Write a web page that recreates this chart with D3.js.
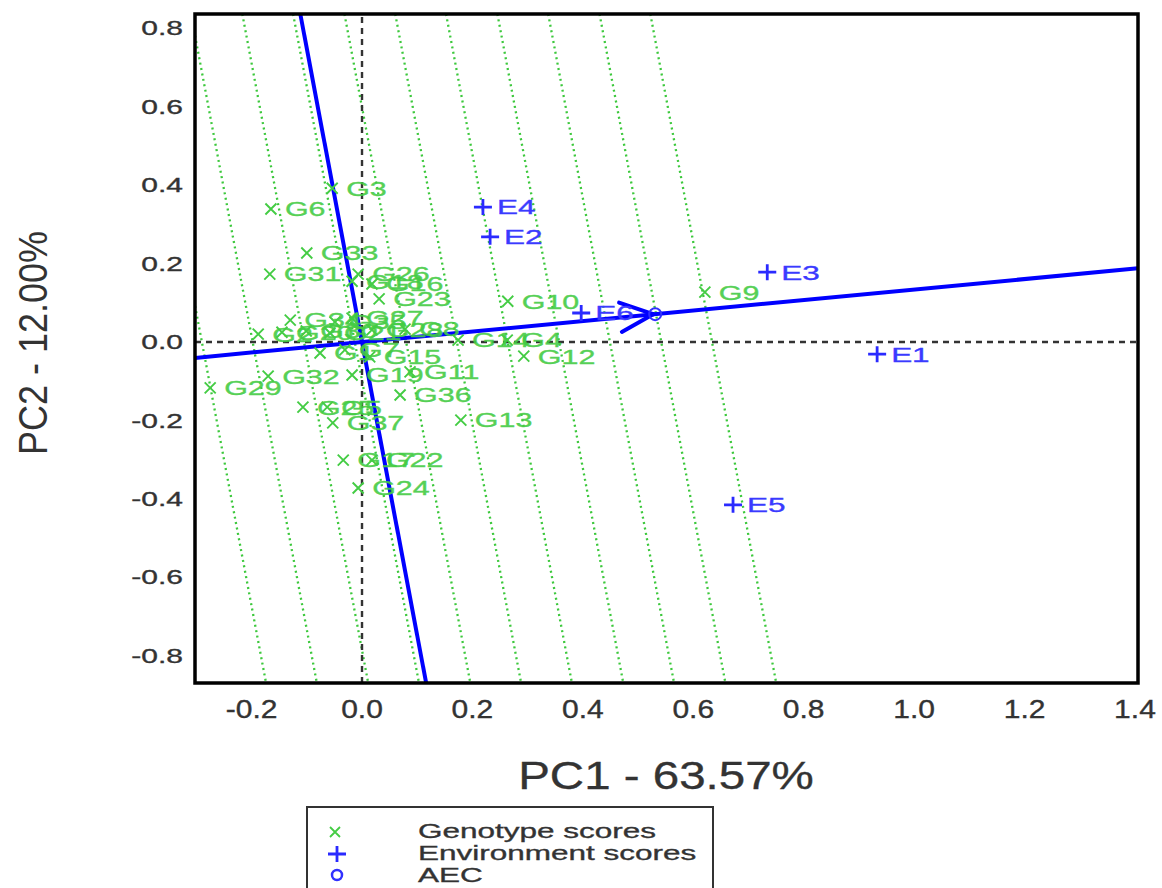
<!DOCTYPE html>
<html>
<head>
<meta charset="utf-8">
<script src="https://cdn.jsdelivr.net/npm/d3@7"></script>
<style>
  body { margin: 0; background: #fff; }
  svg { display: block; font-family: "Liberation Sans", Arial, sans-serif; }
</style>
</head>
<body>
<svg id="chart" width="1162" height="888"></svg>
<script>
// genotype scores (PC1, PC2)
var genoNames = ["G1","G2","G3","G4","G5","G6","G7","G8","G9","G10","G11","G12","G13","G14","G15","G16","G17","G18","G19","G20","G21","G22","G23","G24","G25","G26","G27","G28","G29","G30","G31","G32","G33","G34","G35","G36","G37"];
var genoPC1 = [-0.076,-0.188,-0.054,0.263,-0.063,-0.165,-0.031,0.078,0.621,0.264,0.087,0.293,0.179,0.174,0.014,0.018,-0.034,-0.018,-0.018,-0.145,-0.058,0.018,0.031,-0.007,-0.107,-0.007,-0.018,0.018,-0.275,-0.101,-0.167,-0.170,-0.100,-0.130,-0.049,0.069,-0.053];
var genoPC2 = [-0.028,0.020,0.392,0.005,-0.166,0.339,-0.020,0.033,0.127,0.104,-0.076,-0.036,-0.199,0.005,-0.038,0.148,-0.301,0.155,-0.084,0.025,0.023,-0.301,0.110,-0.372,-0.166,0.173,0.061,0.031,-0.117,0.028,0.173,-0.087,0.227,0.056,0.051,-0.135,-0.206];

// environment scores
var envNames = ["E1","E2","E3","E4","E5","E6"];
var envPC1 = [0.933,0.232,0.734,0.219,0.672,0.397];
var envPC2 = [-0.031,0.268,0.178,0.344,-0.415,0.074];

// average environment coordinate
var aec = [0.531, 0.071];

// offsets of the dotted lines perpendicular to the AEC axis (value at PC2 = 0)
var rankLines = [-0.290,-0.198,-0.105,-0.013,0.080,0.172,0.264,0.357,0.449,0.542,0.634];

var xTicks = [-0.2,0.0,0.2,0.4,0.6,0.8,1.0,1.2,1.4];
var yTicks = [-0.8,-0.6,-0.4,-0.2,0.0,0.2,0.4,0.6,0.8];

var plot = {left: 195, right: 1138, top: 14, bottom: 683};

var svg = d3.select("#chart");

var x = d3.scaleLinear()
    .domain([-0.3025, 1.4055])
    .range([plot.left, plot.right]);

var y = d3.scaleLinear()
    .domain([-0.869, 0.836])
    .range([plot.bottom, plot.top]);

function label(g, px, py, txt, size, sx, color, anchor) {
  return g.append("text")
      .attr("transform", "translate(" + px + "," + py + ") scale(" + sx + ",1)")
      .attr("dy", "0.35em")
      .attr("text-anchor", anchor || "start")
      .style("font-size", size + "px")
      .style("fill", color)
      .style("stroke", color)
      .style("stroke-width", 0.35)
      .text(txt);
}

svg.append("clipPath").attr("id", "clip")
  .append("rect")
    .attr("x", plot.left).attr("y", plot.top)
    .attr("width", plot.right - plot.left)
    .attr("height", plot.bottom - plot.top);

var inner = svg.append("g").attr("clip-path", "url(#clip)");

var x0 = x.domain()[0], x1 = x.domain()[1];
var y0 = y.domain()[0], y1 = y.domain()[1];
var slope = aec[1] / aec[0];

// green dotted lines: PC1 + slope*PC2 = c
inner.selectAll(".rank")
    .data(rankLines)
    .enter()
    .append("line")
      .attr("class", "rank")
      .attr("x1", function(c) { return x(c - slope * y1); })
      .attr("y1", y(y1))
      .attr("x2", function(c) { return x(c - slope * y0); })
      .attr("y2", y(y0))
      .style("stroke", "#3cc83c")
      .style("stroke-width", 2.3)
      .style("stroke-dasharray", "2,3.5");

// dashed zero lines
inner.append("line")
    .attr("x1", x(x0)).attr("x2", x(x1))
    .attr("y1", y(0)).attr("y2", y(0))
    .style("stroke", "#333").style("stroke-width", 2.4)
    .style("stroke-dasharray", "6,5");
inner.append("line")
    .attr("x1", x(0)).attr("x2", x(0))
    .attr("y1", y(y0)).attr("y2", y(y1))
    .style("stroke", "#333").style("stroke-width", 2.4)
    .style("stroke-dasharray", "6,5");

// AEC abscissa and ordinate
inner.append("line")
    .attr("x1", x(x0)).attr("y1", y(x0 * slope))
    .attr("x2", x(x1)).attr("y2", y(x1 * slope))
    .style("stroke", "#0000ff").style("stroke-width", 4);
inner.append("line")
    .attr("x1", x(-slope * y1)).attr("y1", y(y1))
    .attr("x2", x(-slope * y0)).attr("y2", y(y0))
    .style("stroke", "#0000ff").style("stroke-width", 4);

// arrow head at AEC
var tipX = x(aec[0]), tipY = y(aec[1]);
var ang = Math.atan2(y(aec[1]) - y(0), x(aec[0]) - x(0));
[-0.42, 0.42].forEach(function(a) {
  inner.append("line")
      .attr("x1", tipX - 2).attr("y1", tipY)
      .attr("x2", tipX - 2 - 36 * Math.cos(ang + a))
      .attr("y2", tipY - 36 * Math.sin(ang + a))
      .style("stroke", "#0000ff").style("stroke-width", 4)
      .style("stroke-linecap", "round");
});
inner.append("circle")
    .attr("cx", tipX).attr("cy", tipY).attr("r", 6)
    .style("fill", "none").style("stroke", "#3030ff").style("stroke-width", 2);

// genotypes
var genos = genoNames.map(function(n, i) { return {name: n, pc1: genoPC1[i], pc2: genoPC2[i]}; });
var gg = inner.append("g");
genos.forEach(function(d) {
  var px = x(d.pc1), py = y(d.pc2);
  gg.append("path")
      .attr("d", "M" + (px - 5.5) + "," + (py - 5.5) + "L" + (px + 5.5) + "," + (py + 5.5) +
                 "M" + (px - 5.5) + "," + (py + 5.5) + "L" + (px + 5.5) + "," + (py - 5.5))
      .style("stroke", "#44cc44").style("stroke-width", 1.9);
  label(gg, px + 14, py, d.name, 21, 1.45, "#44cc44").style("opacity", 0.9);
});

// environments
var envs = envNames.map(function(n, i) { return {name: n, pc1: envPC1[i], pc2: envPC2[i]}; });
var eg = inner.append("g");
envs.forEach(function(d) {
  var px = x(d.pc1), py = y(d.pc2);
  eg.append("path")
      .attr("d", "M" + (px - 9) + "," + py + "L" + (px + 9) + "," + py +
                 "M" + px + "," + (py - 8) + "L" + px + "," + (py + 8))
      .style("stroke", "#2a2aff").style("stroke-width", 2.8);
  label(eg, px + 14, py, d.name, 21, 1.5, "#3a3aff");
});

// frame
svg.append("rect")
    .attr("x", plot.left).attr("y", plot.top)
    .attr("width", plot.right - plot.left)
    .attr("height", plot.bottom - plot.top)
    .style("fill", "none").style("stroke", "#000").style("stroke-width", 3.5);

// tick labels
yTicks.forEach(function(t) {
  label(svg, 183, y(t), d3.format(".1f")(t).replace("\u2212", "-"), 20, 1.5, "#333", "end");
});
xTicks.forEach(function(t) {
  label(svg, x(t), 709, d3.format(".1f")(t).replace("\u2212", "-"), 25, 1.2, "#333", "middle");
});

// axis titles
label(svg, 666, 776, "PC1 - 63.57%", 38, 1.25, "#333", "middle");
svg.append("text")
    .attr("transform", "translate(33,343) rotate(-90) scale(0.9,1)")
    .attr("dy", "0.35em")
    .attr("text-anchor", "middle")
    .style("font-size", "40px")
    .style("fill", "#333")
    .text("PC2 - 12.00%");

// legend
var lg = svg.append("g");
lg.append("rect")
    .attr("x", 307).attr("y", 807)
    .attr("width", 406).attr("height", 100)
    .style("fill", "#fff").style("stroke", "#333").style("stroke-width", 2);
lg.append("path")
    .attr("d", "M330,827L340,837M330,837L340,827")
    .style("stroke", "#44cc44").style("stroke-width", 1.8);
lg.append("path")
    .attr("d", "M328,854L346,854M337,846L337,862")
    .style("stroke", "#2a2aff").style("stroke-width", 2.8);
lg.append("circle")
    .attr("cx", 337).attr("cy", 875).attr("r", 5)
    .style("fill", "none").style("stroke", "#3030ff").style("stroke-width", 2.5);
label(lg, 418, 831, "Genotype scores", 21, 1.5, "#333");
label(lg, 418, 853, "Environment scores", 21, 1.5, "#333");
label(lg, 418, 875, "AEC", 21, 1.5, "#333");
</script>
</body>
</html>
